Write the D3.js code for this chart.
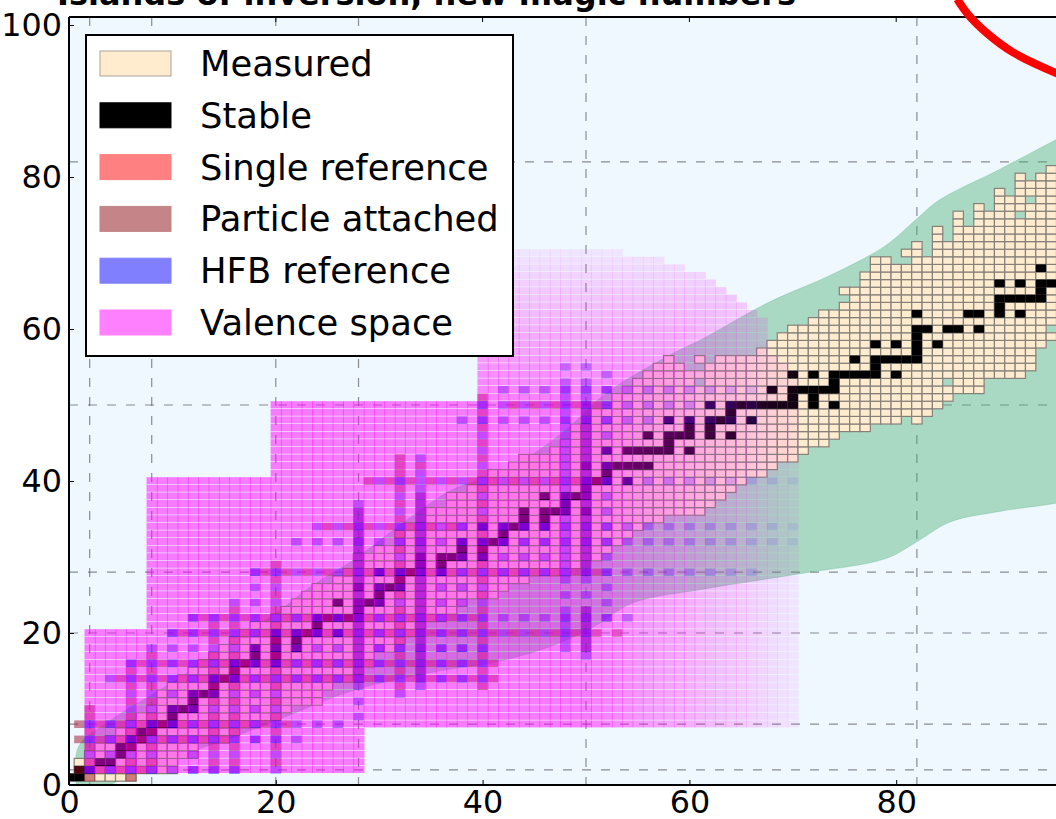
<!DOCTYPE html>
<html lang="en">
<head>
    <meta charset="UTF-8">
    <title>Nuclear chart</title>
    <script src="https://d3js.org/d3.v7.min.js"></script>
    <style>
        body { margin: 0; background-color: #fff; }
        svg { display: block; font-family: "DejaVu Sans", sans-serif; }
        .tick text { font-family: "DejaVu Sans", sans-serif; font-size: 31.8px; fill: #000; }
    </style>
</head>
<body>
    <div id="chart"></div>
    <script type="text/javascript">
        const title = "Islands of inversion, new magic numbers";
        const xTicks = [0, 20, 40, 60, 80];
        const yTicks = [0, 20, 40, 60, 80, 100];
        const magicNumbers = [2, 8, 20, 28, 50, 82];
        const legendLabels = ["Measured", "Stable", "Single reference", "Particle attached", "HFB reference", "Valence space"];

        // lowest and highest measured Z for N = 0..95
        const measuredLow = [1,1,1,1,1,1,1,2,2,2,2,4,4,6,6,6,7,8,8,9,9,10,11,11,11,13,14,14,14,16,18,18,19,20,21,22,22,23,24,25,25,25,26,27,27,28,28,28,28,29,30,30,31,32,33,34,35,35,36,36,36,36,37,38,39,40,41,41,42,43,43,44,45,45,46,47,47,47,48,48,48,49,48,49,50,51,52,52,52,54,54,54,54,55,58,59];
        const measuredHigh = [1,3,4,5,6,7,8,9,10,12,13,14,15,16,17,18,19,20,21,21,22,23,24,25,26,26,27,28,30,30,31,31,33,34,34,36,36,38,38,39,40,41,41,42,43,43,43,44,45,47,47,49,49,51,52,53,54,55,56,55,54,56,55,56,56,56,56,57,58,59,60,60,61,62,62,65,65,67,69,69,68,70,71,69,73,71,75,73,76,75,78,77,80,79,80,81];
        const measuredHoles = [[75,64],[81,69],[92,75],[93,77],[61,55],[61,53],[85,53],[95,60]];

        // stable neutron numbers, one entry per Z
        const stable = [
            [1,[0,1]],[2,[1,2]],[3,[3,4]],[4,[5]],[5,[5,6]],[6,[6,7]],[7,[7,8]],[8,[8,9,10]],[9,[10]],[10,[10,11,12]],
            [11,[12]],[12,[12,13,14]],[13,[14]],[14,[14,15,16]],[15,[16]],[16,[16,17,18,20]],[17,[18,20]],[18,[18,20,22]],
            [19,[20,22]],[20,[20,22,23,24,26]],[21,[24]],[22,[26,27,28,24,25]],[23,[28]],[24,[26,28,29,30]],[25,[30]],
            [26,[28,30,31,32]],[27,[32]],[28,[30,32,33,34,36]],[29,[34,36]],[30,[34,36,37,38,40]],[31,[38,40]],
            [32,[38,40,41,42]],[33,[42]],[34,[40,42,43,44,46]],[35,[44,46]],[36,[44,46,47,48,50]],[37,[48]],
            [38,[46,48,49,50]],[39,[50]],[40,[50,51,52,54]],[41,[52]],[42,[50,52,53,54,55,56]],[44,[52,54,55,56,57,58,60]],
            [45,[58]],[46,[56,58,59,60,62,64]],[47,[60,62]],[48,[58,60,62,63,64,66]],[49,[64]],
            [50,[62,64,65,66,67,68,69,70,72,74]],[51,[70,72]],[52,[68,70,71,72,73,74]],[53,[74]],
            [54,[70,72,74,75,76,77,78,80]],[55,[78]],[56,[76,78,79,80,81,82]],[57,[82]],[58,[78,80,82,84]],[59,[82]],
            [60,[82,83,85,86,88]],[62,[82,87,88,90,92]],[63,[90]],[64,[90,91,92,93,94]],[65,[94]],[66,[90,92,94,95]],[68,[94]]
        ];

        // valence space outline, per N: [first N, last N, lowest Z, highest Z]
        const valenceBlocks = [
            [2,7,2,20],[8,19,2,40],[20,28,2,50],[29,39,8,50],[40,53,8,70],[54,57,8,69],[58,59,8,68],[60,61,8,67],
            [62,62,8,66],[63,63,8,65],[64,64,8,64],[65,65,8,63],[66,66,8,62],[67,67,8,61],[68,68,8,56],[69,69,8,55],[70,70,8,54]
        ];

        // reference calculations, even nuclides on a shell: [shell, from, to]
        const hfbRows = [
            [2,2,16],[6,2,22],[8,2,26],[14,4,40],[16,6,40],[18,30,40],[20,10,50],[22,12,54],[28,18,66],[32,22,70],
            [34,24,70],[40,30,70],[48,38,66],[50,40,66],[52,42,66]
        ];
        const hfbCols = [
            [2,2,8],[4,2,8],[6,2,16],[8,2,18],[10,6,20],[12,2,22],[14,2,22],[16,2,24],[18,6,28],[20,2,28],[22,14,22],
            [24,14,22],[26,14,22],[30,14,28],[32,12,40],[36,14,28],[38,14,34],[40,14,50],[42,28,34],[44,28,34],[46,28,34],[52,22,54]
        ];
        // columns filled on every Z
        const hfbFullCols = [[28,13,37],[34,13,39],[48,18,23],[48,27,53],[50,17,23],[50,27,53]];
        const hfbSingles = [[28,9],[28,11],[34,41],[34,43],[48,25],[50,25],[48,55],[50,55]];

        // particle attached, odd neighbours of the shells
        const attachedRows = [[2,3,7],[6,3,15],[8,3,21],[14,5,41],[16,7,41],[20,11,53],[22,13,39],[28,19,51],[34,25,37],[40,29,51],[50,43,51]];
        const attachedCols = [[2,3,7],[6,3,15],[8,3,17],[14,3,21],[16,3,23],[20,3,29],[32,13,43],[40,13,51]];
        const attachedFullCols = [[28,14,36],[34,14,38],[50,18,23],[50,28,50]];
        const attachedSingles = [[1,8],[1,6],[1,2],[2,1],[6,1],[2,9],[2,10],[32,42],[34,42]];

        // green band, upper edge then lower edge
        const bandUpper = [[0.8,-1],[0.9,5],[4,8.5],[8.8,12.5],[11.4,14.7],[20.4,23],[23.6,26.3],[27.5,29.6],[32.7,34.9],[37,38.8],[42.3,41.4],[46.8,45.4],[48.8,47.6],[52,51.6],[59,57.2],[61,58.5],[67.5,63.4],[74,67.3],[79,71],[82,74.5],[84.2,77],[90,81],[95.6,85],[100,88]];
        const bandLower = [[100,38.4],[95.6,37.1],[90,36],[85.2,34.6],[82,32],[79,29.8],[70.7,27.8],[61,25.7],[54.6,24],[50.7,20.8],[46.5,18.2],[40.7,16],[37.5,15.4],[31.4,13.8],[26.5,12],[21.7,9.4],[16.5,6.6],[8,2.5],[2.4,-1]];
        const dripLine = [[85.9,103.4],[87,101.3],[88.8,98.9],[91.3,96.4],[95.6,93.6]];

        const width = 1056, height = 819;
        const x = d3.scaleLinear().domain([0, 100]).range([69, 1103]);
        const y = d3.scaleLinear().domain([0, 100]).range([785, 25]);
        const plotTop = 17;

        const svg = d3.select("#chart").append("svg")
            .attr("width", width)
            .attr("height", height);

        svg.append("defs").append("clipPath").attr("id", "plot-clip")
            .append("rect").attr("x", 69).attr("y", plotTop).attr("width", width - 69).attr("height", 785 - plotTop);

        svg.append("text").text(title)
            .attr("x", 57).attr("y", 5)
            .attr("font-size", 32).attr("font-weight", "bold");

        const plot = svg.append("g").attr("clip-path", "url(#plot-clip)");
        plot.append("rect").attr("x", 69).attr("y", plotTop).attr("width", width - 69).attr("height", 785 - plotTop).attr("fill", "#eff7ff");

        // magic number grid
        plot.selectAll(".grid-x").data(magicNumbers).join("line")
            .attr("class", "grid-x")
            .attr("x1", d => x(d)).attr("x2", d => x(d))
            .attr("y1", plotTop).attr("y2", 785);
        plot.selectAll(".grid-y").data(magicNumbers).join("line")
            .attr("class", "grid-y")
            .attr("y1", d => y(d)).attr("y2", d => y(d))
            .attr("x1", 69).attr("x2", width);
        plot.selectAll(".grid-x,.grid-y")
            .attr("stroke", "#555").attr("stroke-opacity", 0.65).attr("stroke-width", 1.2).attr("stroke-dasharray", "9,10");

        // drip line band
        plot.append("path")
            .attr("d", d3.line().x(d => x(d[0])).y(d => y(d[1])).curve(d3.curveCatmullRom)(bandUpper.concat(bandLower)))
            .attr("fill", "#40ac69").attr("fill-opacity", 0.4)
            .attr("stroke", "#40ac69").attr("stroke-opacity", 0.25);

        // helpers: nuclide cells
        const cellX = d => x(d.n - 0.5);
        const cellY = d => y(d.z + 0.5);
        const cellW = x(1) - x(0);
        const cellH = y(0) - y(1);
        const holeKeys = new Set(measuredHoles.map(d => d.join()));
        // fade of calculated cells beyond shell 50
        const fade = d3.scaleLinear().domain([50, 71]).range([1, 0.1]).clamp(true);
        const fadeOf = d => fade(Math.max(d.n, d.z));

        const measuredCells = [];
        measuredLow.forEach((low, n) => {
            d3.range(low, measuredHigh[n] + 1).forEach(z => {
                if (!holeKeys.has([n, z].join())) measuredCells.push({n, z});
            });
        });
        const stableCells = stable.flatMap(([z, ns]) => ns.map(n => ({n, z})));

        const rowsToCells = (rows, step) => rows.flatMap(([z, from, to]) => d3.range(from, to + 1, step).map(n => ({n, z})));
        const colsToCells = (cols, step) => cols.flatMap(([n, from, to]) => d3.range(from, to + 1, step).map(z => ({n, z})));
        const pairsToCells = pairs => pairs.map(([n, z]) => ({n, z}));

        const hfbCells = rowsToCells(hfbRows, 2).concat(colsToCells(hfbCols, 2), colsToCells(hfbFullCols, 1), pairsToCells(hfbSingles));
        const attachedCells = rowsToCells(attachedRows, 2).concat(colsToCells(attachedCols, 2), colsToCells(attachedFullCols, 1), pairsToCells(attachedSingles));
        const valenceCells = valenceBlocks.flatMap(([n0, n1, z0, z1]) =>
            d3.range(n0, n1 + 1).flatMap(n => d3.range(z0, z1 + 1).map(z => ({n, z}))));

        plot.append("g").selectAll("rect").data(measuredCells).join("rect")
            .attr("x", cellX).attr("y", cellY).attr("width", cellW).attr("height", cellH)
            .attr("fill", "#ffeccf").attr("stroke", "#85807a").attr("stroke-width", 1.2);

        plot.append("g").selectAll("rect").data(stableCells).join("rect")
            .attr("x", cellX).attr("y", cellY).attr("width", cellW).attr("height", cellH)
            .attr("fill", "#000");

        plot.append("g").selectAll("rect").data(attachedCells).join("rect")
            .attr("x", cellX).attr("y", cellY).attr("width", cellW).attr("height", cellH)
            .attr("fill", "#a01020").attr("fill-opacity", d => 0.5 * fadeOf(d));

        plot.append("g").selectAll("rect").data(hfbCells).join("rect")
            .attr("x", cellX).attr("y", cellY).attr("width", cellW).attr("height", cellH)
            .attr("fill", "#0000ff").attr("fill-opacity", d => 0.42 * fadeOf(d));

        plot.append("g").selectAll("rect").data(valenceCells).join("rect")
            .attr("x", cellX).attr("y", cellY).attr("width", cellW + 0.8).attr("height", cellH - 0.6)
            .attr("fill", "#ff00ff").attr("fill-opacity", d => 0.5 * fadeOf(d));

        // axes, ticks point inwards
        const xAxis = svg.append("g").attr("transform", "translate(0,785)")
            .call(d3.axisBottom(x).tickValues(xTicks).tickSizeInner(-5).tickSizeOuter(0).tickPadding(5));
        const yAxis = svg.append("g").attr("transform", "translate(69,0)")
            .call(d3.axisLeft(y).tickValues(yTicks).tickSizeInner(-5).tickSizeOuter(0).tickPadding(7));
        xAxis.select(".domain").attr("d", `M69,0H${width}`);
        yAxis.select(".domain").attr("d", `M0,${plotTop}V785`);
        svg.selectAll(".domain").attr("stroke", "#000").attr("stroke-width", 2);
        svg.selectAll(".tick line").attr("stroke", "#000").attr("stroke-width", 1);
        svg.append("line").attr("x1", 69).attr("x2", width).attr("y1", plotTop).attr("y2", plotTop)
            .attr("stroke", "#000").attr("stroke-width", 2);
        svg.selectAll(".top-tick").data(xTicks.slice(1)).join("line")
            .attr("class", "top-tick")
            .attr("x1", d => x(d)).attr("x2", d => x(d))
            .attr("y1", plotTop).attr("y2", plotTop + 5)
            .attr("stroke", "#000");

        // red curve runs past the top of the axes
        svg.append("path")
            .attr("d", d3.line().x(d => x(d[0])).y(d => y(d[1])).curve(d3.curveCatmullRom)(dripLine))
            .attr("fill", "none").attr("stroke", "#ff0000").attr("stroke-width", 8);

        // legend
        const legendColors = ["#ffeccf", "#000", "#ff8080", "#c48488", "#8080ff", "#ff80ff"];
        const legendEdges = ["#a9a39a", "#000", "#ff8080", "#c48488", "#8080ff", "#ff80ff"];
        const legend = svg.append("g").attr("transform", "translate(86,35)");
        legend.append("rect").attr("width", 427).attr("height", 321)
            .attr("fill", "#fff").attr("stroke", "#000").attr("stroke-width", 2);
        const items = legend.selectAll(".item").data(legendLabels).join("g")
            .attr("class", "item")
            .attr("transform", (d, i) => `translate(14,${16 + i * 51.8})`);
        items.append("rect").attr("width", 71).attr("height", 25)
            .attr("fill", (d, i) => legendColors[i]).attr("stroke", (d, i) => legendEdges[i]);
        items.append("text").text(d => d)
            .attr("x", 100).attr("y", 25).attr("font-size", 35.35);
    </script>
</body>
</html>
